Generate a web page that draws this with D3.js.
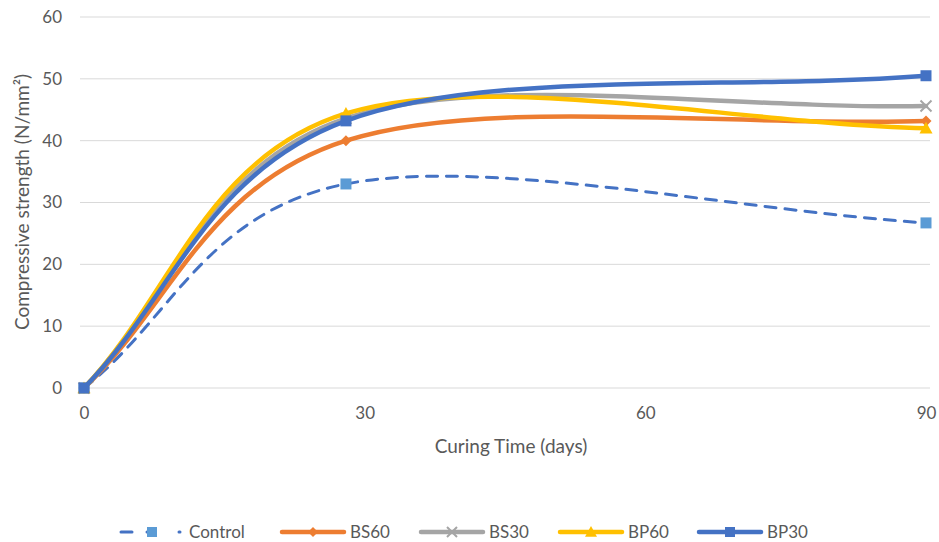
<!DOCTYPE html>
<html>
<head>
<meta charset="utf-8">
<script src="https://cdn.jsdelivr.net/npm/d3@7"></script>
<style>
  html, body { margin: 0; padding: 0; background: #fff; }
  svg { display: block; font-family: Lato, "Open Sans", sans-serif; }
</style>
</head>
<body>
<svg id="chart" width="939" height="542"></svg>
<script>
// Curing ages (days) and compressive strength (N/mm²) per mix
const days = [0, 28, 90];
const control = [0, 33.0, 26.7];
const bs60 = [0, 40.0, 43.2];
const bs30 = [0, 43.6, 45.6];
const bp60 = [0, 44.4, 42.0];
const bp30 = [0, 43.2, 50.5];

const seriesNames = ["Control", "BS60", "BS30", "BP60", "BP30"];
const xTicks = [0, 30, 60, 90];
const yTicks = [0, 10, 20, 30, 40, 50, 60];

const series = [
  { name: seriesNames[0], values: control, line: "#4472C4", fill: "#5B9BD5", marker: "square", dash: "11,9", width: 3 },
  { name: seriesNames[1], values: bs60, line: "#ED7D31", fill: "#ED7D31", marker: "diamond", dash: null, width: 4.5 },
  { name: seriesNames[2], values: bs30, line: "#A5A5A5", fill: "#A5A5A5", marker: "cross", dash: null, width: 4.5 },
  { name: seriesNames[3], values: bp60, line: "#FFC000", fill: "#FFC000", marker: "triangle", dash: null, width: 4.5 },
  { name: seriesNames[4], values: bp30, line: "#4472C4", fill: "#4472C4", marker: "square", dash: null, width: 4.5 }
];

const svg = d3.select("#chart");
const x = d3.scaleLinear().domain([0, 90]).range([84, 926]);
const y = d3.scaleLinear().domain([0, 60]).range([388, 17]);

const textColor = "#595959";

// horizontal gridlines
svg.append("g")
  .selectAll("line")
  .data(yTicks)
  .join("line")
  .attr("x1", x(0) - 4)
  .attr("x2", x(90) + 4)
  .attr("y1", d => y(d))
  .attr("y2", d => y(d))
  .attr("stroke", "#D9D9D9")
  .attr("stroke-width", 1);

// y axis labels
const yAxis = svg.append("g")
  .attr("transform", `translate(${x(0) - 4},0)`)
  .call(d3.axisLeft(y).tickValues(yTicks).tickSize(0).tickPadding(18));
yAxis.select(".domain").remove();
yAxis.selectAll("text")
  .attr("fill", textColor)
  .style("font-size", "17px")
  .style("font-family", "Lato, sans-serif");

// x axis labels
const xAxis = svg.append("g")
  .attr("transform", `translate(0,${y(0)})`)
  .call(d3.axisBottom(x).tickValues(xTicks).tickSize(0).tickPadding(19));
xAxis.select(".domain").remove();
xAxis.selectAll("text")
  .attr("fill", textColor)
  .style("font-size", "17px")
  .style("font-family", "Lato, sans-serif");

// axis titles
svg.append("text")
  .attr("x", 511)
  .attr("y", 453)
  .attr("text-anchor", "middle")
  .attr("fill", textColor)
  .style("font-size", "19px")
  .text("Curing Time (days)");

svg.append("text")
  .attr("transform", "translate(29,202) rotate(-90)")
  .attr("text-anchor", "middle")
  .attr("fill", textColor)
  .style("font-size", "19px")
  .text("Compressive strength (N/mm²)");

// Smoothed line: cubic Bézier segments whose inner tangents follow the
// neighbouring points (1/6 of the chord) and whose end tangents point
// along the end segment (1/3 of its length).
function smoothPath(pts) {
  const p = pts.map(d => [x(d[0]), y(d[1])]);
  const path = d3.path();
  path.moveTo(p[0][0], p[0][1]);
  const n = p.length;
  for (let i = 0; i < n - 1; i++) {
    const a = p[i], b = p[i + 1];
    let c1, c2;
    if (i === 0) {
      c1 = [a[0] + (b[0] - a[0]) / 3, a[1] + (b[1] - a[1]) / 3];
    } else {
      const prev = p[i - 1];
      c1 = [a[0] + (b[0] - prev[0]) / 6, a[1] + (b[1] - prev[1]) / 6];
    }
    if (i === n - 2) {
      c2 = [b[0] - (b[0] - a[0]) / 3, b[1] - (b[1] - a[1]) / 3];
    } else {
      const next = p[i + 2];
      c2 = [b[0] - (next[0] - a[0]) / 6, b[1] - (next[1] - a[1]) / 6];
    }
    path.bezierCurveTo(c1[0], c1[1], c2[0], c2[1], b[0], b[1]);
  }
  return path.toString();
}

function markerPath(type, size) {
  const h = size / 2;
  switch (type) {
    case "square": return `M${-h},${-h}H${h}V${h}H${-h}Z`;
    case "diamond": return `M0,${-h}L${h},0L0,${h}L${-h},0Z`;
    case "triangle": return `M0,${-h}L${h},${h * 0.8}L${-h},${h * 0.8}Z`;
    case "cross": return `M${-h},${-h}L${h},${h}M${h},${-h}L${-h},${h}`;
  }
}

function drawMarker(g, s, cx, cy, size) {
  const p = g.append("path")
    .attr("transform", `translate(${cx},${cy})`)
    .attr("d", markerPath(s.marker, size));
  if (s.marker === "cross") {
    p.attr("fill", "none").attr("stroke", s.fill).attr("stroke-width", 2);
  } else {
    p.attr("fill", s.fill);
  }
}

const plot = svg.append("g");
series.forEach(s => {
  const pts = days.map((d, i) => [d, s.values[i]]);
  const g = plot.append("g");
  g.append("path")
    .attr("d", smoothPath(pts))
    .attr("fill", "none")
    .attr("stroke", s.line)
    .attr("stroke-width", s.width)
    .attr("stroke-linecap", "round")
    .attr("stroke-dasharray", s.dash);
  pts.forEach(p => drawMarker(g, s, x(p[0]), y(p[1]), s.marker === "triangle" ? 13 : 11));
});

// legend
const legendX = [121, 282, 421, 560, 699];
const ly = 532;
const legend = svg.append("g");
series.forEach((s, i) => {
  const x0 = legendX[i];
  const g = legend.append("g");
  g.append("line")
    .attr("x1", x0).attr("x2", x0 + 62)
    .attr("y1", ly).attr("y2", ly)
    .attr("stroke", s.line)
    .attr("stroke-width", s.width)
    .attr("stroke-dasharray", s.dash ? "11,15,4,28,1,10" : null)
    .attr("stroke-linecap", "round");
  drawMarker(g, s, x0 + 31, ly, s.marker === "triangle" ? 12 : 10);
  g.append("text")
    .attr("x", x0 + 68)
    .attr("y", ly)
    .attr("dy", "0.35em")
    .attr("fill", textColor)
    .style("font-size", "17px")
    .text(s.name);
});
</script>
</body>
</html>
